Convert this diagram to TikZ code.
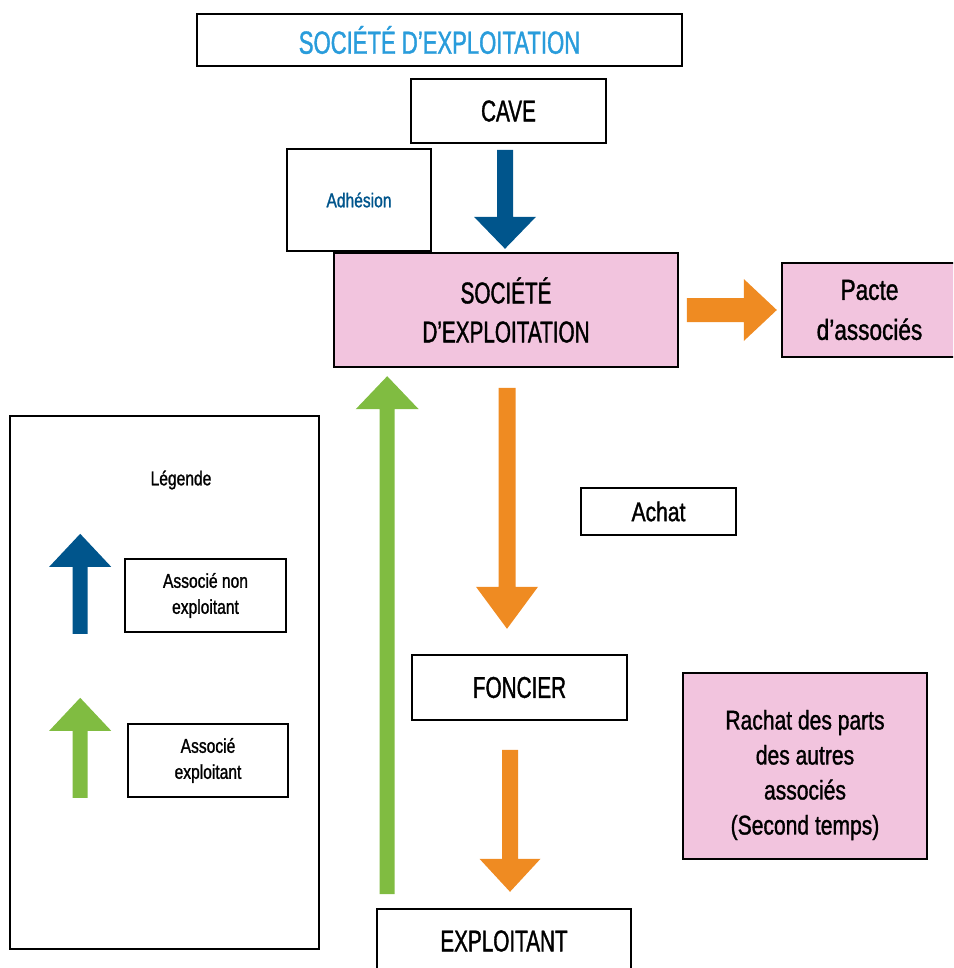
\documentclass[tikz,border=0pt]{standalone}
\usepackage{fontspec}
\setmainfont{Liberation Sans}[FakeStretch=0.78,FakeBold=1.2]
\newfontfamily\majfont{Liberation Sans}[FakeStretch=0.69,FakeBold=1.2]
\usetikzlibrary{calc}
\definecolor{bleu}{RGB}{0,85,140}
\definecolor{bleuclair}{RGB}{41,156,219}
\definecolor{orange}{RGB}{239,139,34}
\definecolor{vert}{RGB}{128,188,65}
\definecolor{rose}{RGB}{242,196,222}
\begin{document}
\begin{tikzpicture}[x=1pt,y=-1pt,
	boite/.style={draw=black,line width=1.6pt,align=center,inner sep=0pt,text=black},
	boiterose/.style={boite,fill=rose},
	grand/.style={font=\majfont\fontsize{30}{39}\selectfont},
	moyen/.style={font=\fontsize{27}{35}\selectfont},
	petit/.style={font=\fontsize{20}{26}\selectfont},
	pics/fleche/.style n args={4}{code={
		\fill (0,-#3) -- ({#1-#2},-#3) -- ({#1-#2},-#4) -- (#1,0) -- ({#1-#2},#4) -- ({#1-#2},#3) -- (0,#3) -- cycle;
	}}]
	\useasboundingbox (0,0) rectangle (953,968);
	\clip (0,0) rectangle (953,968);
	% boxes of the main chain
	\node[boite,minimum width=485,minimum height=52,text=bleuclair,font=\majfont\fontsize{32}{38}\selectfont] (titre) at (439.5,40) {SOCIÉTÉ D’EXPLOITATION};
	\node[boite,grand,minimum width=195,minimum height=64] (cave) at (508.5,111) {CAVE};
	\node[boite,minimum width=144,minimum height=102,text=bleu,font=\fontsize{20}{24}\selectfont] (adhesion) at (359,200) {Adhésion};
	\node[boiterose,grand,minimum width=344,minimum height=114] (societe) at (506,310) {SOCIÉTÉ\\D’EXPLOITATION};
	\node[boiterose,moyen,font=\fontsize{29}{40}\selectfont,minimum width=175,minimum height=94] (pacte) at (869.5,310) {Pacte\\d’associés};
	\node[boite,moyen,minimum width=155,minimum height=47] (achat) at (658.5,511.5) {Achat};
	\node[boite,grand,minimum width=215,minimum height=65] (foncier) at (519.5,687.5) {FONCIER};
	\node[boiterose,minimum width=244,minimum height=186] (rachat) at (805,766) {};
	\node[moyen,align=center] (rachattxt) at ($(rachat.center)+(0,9)$) {Rachat des parts\\des autres\\associés\\(Second temps)};
	\node[boite,grand,minimum width=254,minimum height=64] (exploitant) at (504,941) {EXPLOITANT};
	% legend
	\node[boite,minimum width=309,minimum height=533] (legende) at (164.5,682.5) {};
	\node[petit] (legtitre) at (181,480) {Légende};
	\node[boite,petit,minimum width=161,minimum height=73] (leg1) at (205.5,595.5) {Associé non\\exploitant};
	\node[boite,petit,minimum width=160,minimum height=73] (leg2) at (208,760.5) {Associé\\exploitant};
	% arrows
	\pic[rotate=-90,fill=bleu] at ($(cave.south)+(-3.5,6)$) {fleche={99}{32}{8}{31}};
	\pic[fill=orange] at ($(societe.east)+(8,0)$) {fleche={90}{33}{12}{31}};
	\pic[rotate=-90,fill=orange] at ($(societe.south)+(1,20)$) {fleche={241}{42}{8.5}{31}};
	\pic[rotate=-90,fill=orange] at ($(foncier.south)+(-9.5,29)$) {fleche={142}{33}{8}{30.5}};
	\pic[rotate=90,fill=vert] at ($(exploitant.north west)+(11,-14)$) {fleche={518}{33}{7.5}{31.5}};
	\pic[rotate=90,fill=bleu] at ($(leg1.south west)+(-44,1)$) {fleche={100}{33}{7.5}{31}};
	\pic[rotate=90,fill=vert] at ($(leg2.south west)+(-47,0)$) {fleche={100}{33}{7.5}{31}};
\end{tikzpicture}
\end{document}
